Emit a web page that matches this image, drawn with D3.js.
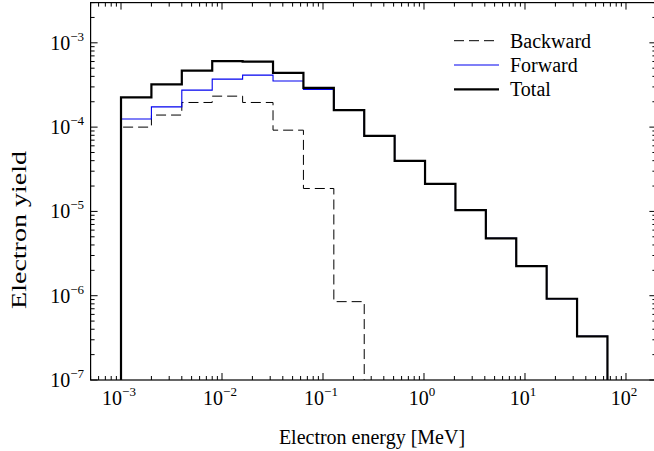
<!DOCTYPE html>
<html><head><meta charset="utf-8">
<script src="https://cdn.jsdelivr.net/npm/d3@7"></script>
<style>
html,body{margin:0;padding:0;background:#fff;}
</style></head>
<body><svg id="c" width="654" height="451"></svg>
<script>
// Bin edges (MeV)
const binEdges = [0.001,0.002,0.004,0.008,0.016,0.032,0.064,0.128,0.256,0.512,1.024,2.048,4.096,8.192,16.384,32.768,65.536];
// Electron yield per bin
const totalYield    = [2.25e-4,3.21e-4,4.68e-4,6.07e-4,5.98e-4,4.41e-4,2.92e-4,1.59e-4,7.88e-5,3.98e-5,2.12e-5,1.035e-5,4.79e-6,2.24e-6,9.2e-7,3.29e-7];
const forwardYield  = [1.25e-4,1.74e-4,2.75e-4,3.71e-4,4.14e-4,3.52e-4,2.80e-4,1.58e-4,7.88e-5,3.98e-5,2.12e-5,1.035e-5,4.79e-6,2.24e-6,9.2e-7,3.29e-7];
const backwardYield = [1.0e-4,1.39e-4,1.96e-4,2.33e-4,1.96e-4,9.2e-5,1.87e-5,8.5e-7];
const xTickExps = [-3,-2,-1,0,1,2];
const yTickExps = [-7,-6,-5,-4,-3];
const legendLabels = ["Backward","Forward","Total"];

const FONT = "'Liberation Serif', 'Times New Roman', Times, 'DejaVu Serif', serif";
const svg = d3.select("#c");
const x = d3.scaleLog().domain([5e-4, 2e2]).range([90.6, 656.4]);
const y = d3.scaleLog().domain([1e-7, 3e-3]).range([380, 2.6]);
const L = 90.6, R = 656.4, T = 2.6, B = 380;

function minorVals(scale){
  const [a,b] = scale.domain(); const out=[];
  for(let e=Math.floor(Math.log10(a)); e<=Math.ceil(Math.log10(b)); e++){
    for(let m=2;m<=9;m++){ const v=m*Math.pow(10,e); if(v>=a&&v<=b) out.push(v); }
  }
  return out;
}
const xMajor = xTickExps.map(e=>Math.pow(10,e));
const yMajor = yTickExps.map(e=>Math.pow(10,e));

const g = svg.append("g").style("font-family", FONT);
g.append("rect").attr("x",L).attr("y",T).attr("width",R-L).attr("height",B-T)
  .attr("fill","none").attr("stroke","#000").attr("stroke-width",1.2);

const tk = g.append("g").attr("stroke","#000").attr("stroke-width",1);
xMajor.forEach(v=>{const px=x(v);
  tk.append("line").attr("x1",px).attr("x2",px).attr("y1",B).attr("y2",B-7);
  tk.append("line").attr("x1",px).attr("x2",px).attr("y1",T).attr("y2",T+7);});
minorVals(x).forEach(v=>{const px=x(v);
  tk.append("line").attr("x1",px).attr("x2",px).attr("y1",B).attr("y2",B-4);
  tk.append("line").attr("x1",px).attr("x2",px).attr("y1",T).attr("y2",T+4);});
yMajor.forEach(v=>{const py=y(v);
  tk.append("line").attr("y1",py).attr("y2",py).attr("x1",L).attr("x2",L+7);
  tk.append("line").attr("y1",py).attr("y2",py).attr("x1",R).attr("x2",R-7);});
minorVals(y).forEach(v=>{const py=y(v);
  tk.append("line").attr("y1",py).attr("y2",py).attr("x1",L).attr("x2",L+4);
  tk.append("line").attr("y1",py).attr("y2",py).attr("x1",R).attr("x2",R-4);});

xTickExps.forEach(e=>{
  const t = g.append("text").attr("x",x(Math.pow(10,e))-2).attr("y",405)
    .attr("text-anchor","middle").style("font-family",FONT).attr("font-size",20);
  t.append("tspan").text("10");
  t.append("tspan").attr("font-size",13).attr("dy",-9).text(e<0?"\u2212"+(-e):String(e));
});
yTickExps.forEach(e=>{
  const t = g.append("text").attr("x",84).attr("y",y(Math.pow(10,e))+7)
    .attr("text-anchor","end").style("font-family",FONT).attr("font-size",20);
  t.append("tspan").text("10");
  t.append("tspan").attr("font-size",13).attr("dy",-9).text("\u2212"+(-e));
});

g.append("text").attr("x",372).attr("y",444).attr("text-anchor","middle")
  .style("font-family",FONT).attr("font-size",20).text("Electron energy [MeV]");
g.append("text").attr("transform","translate(26,230) rotate(-90) scale(1.4,1)")
  .attr("text-anchor","middle").style("font-family",FONT).attr("font-size",20).text("Electron yield");

function stepPts(vals){
  const pts=[[binEdges[0],1e-7]];
  vals.forEach((v,i)=>pts.push([binEdges[i],v]));
  pts.push([binEdges[vals.length],1e-7]);
  return pts;
}
const line = d3.line().x(d=>x(d[0])).y(d=>y(d[1])).curve(d3.curveStepAfter);
g.append("path").attr("d",line(stepPts(backwardYield))).attr("fill","none")
  .attr("stroke","#000").attr("stroke-width",1).attr("stroke-dasharray","10,5");
g.append("path").attr("d",line(stepPts(forwardYield))).attr("fill","none")
  .attr("stroke","#0000f0").attr("stroke-width",1.1);
g.append("path").attr("d",line(stepPts(totalYield))).attr("fill","none")
  .attr("stroke","#000").attr("stroke-width",2.2);

const legStyles = [{c:"#000",w:1,d:"10,5"},{c:"#0000f0",w:1.1,d:null},{c:"#000",w:2.2,d:null}];
legendLabels.forEach((lab,i)=>{
  const ly = 40.7 + i*24.3;
  g.append("line").attr("x1",454).attr("x2",499).attr("y1",ly).attr("y2",ly)
    .attr("stroke",legStyles[i].c).attr("stroke-width",legStyles[i].w)
    .attr("stroke-dasharray",legStyles[i].d);
  g.append("text").attr("x",510).attr("y",ly+7).style("font-family",FONT).attr("font-size",20).text(lab);
});
</script></body></html>
